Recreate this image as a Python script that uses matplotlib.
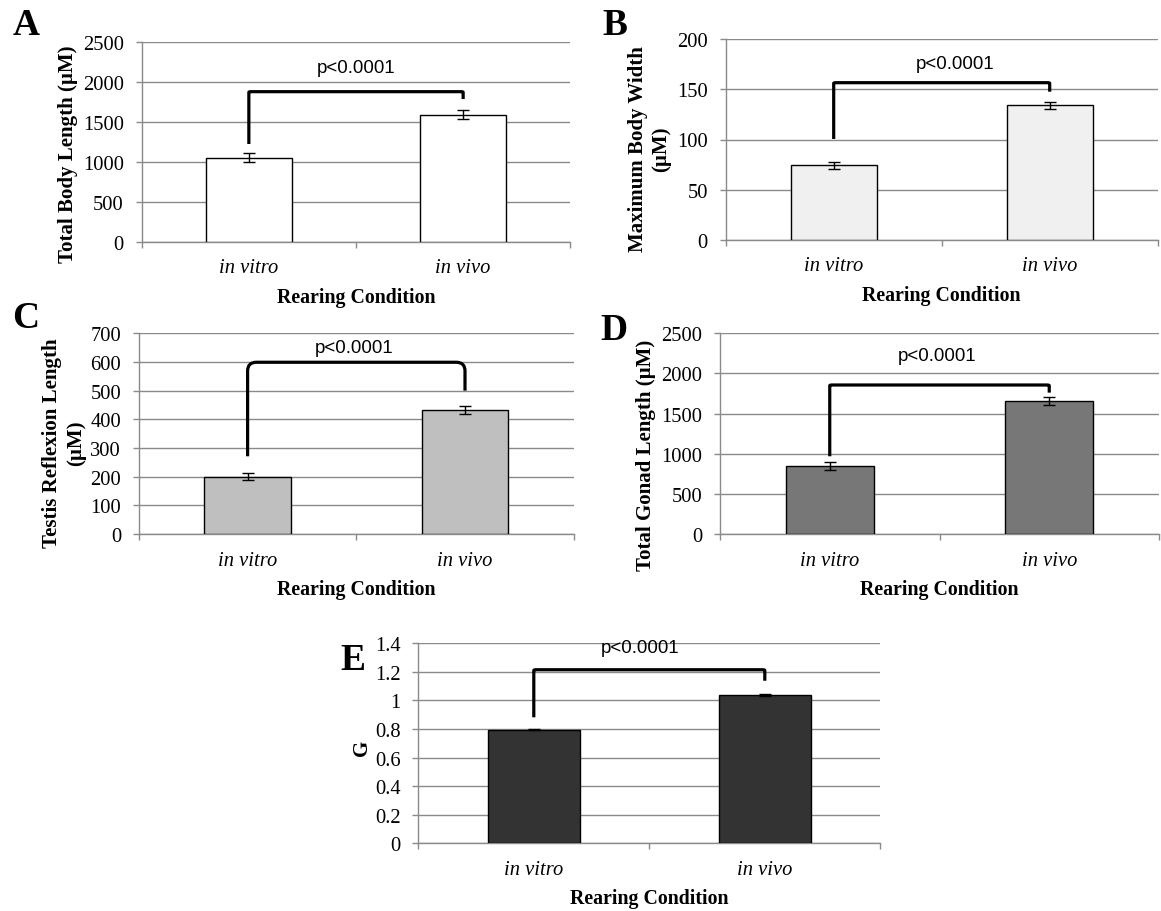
import matplotlib
matplotlib.use('Agg')
import matplotlib.pyplot as plt
from matplotlib.path import Path
from matplotlib.patches import PathPatch
import numpy as np

plt.rcParams['font.family'] = ['Liberation Serif', 'DejaVu Serif']

# ---------------- data ----------------
categories = ['in vitro', 'in vivo']
panel_letters = ['A', 'B', 'C', 'D', 'E']
ylabels = ['Total Body Length (\u00b5M)',
           'Maximum Body Width\n(\u00b5M)',
           'Testis Reflexion Length\n(\u00b5M)',
           'Total Gonad Length (\u00b5M)',
           'G']
xlabel_text = 'Rearing Condition'
p_label = 'p<0.0001'

means_A = [1055, 1592]
err_A = [58, 57]
means_B = [74.3, 134.1]
err_B = [3.3, 3.6]
means_C = [200, 432]
err_C = [11.6, 13]
means_D = [847, 1657]
err_D = [54, 54]
means_E = [0.795, 1.038]
err_E = [0.005, 0.007]

y_max = [2500, 200, 700, 2500, 1.4]
y_step = [500, 50, 100, 500, 0.2]

bar_colors = ['#ffffff', '#f0f0f0', '#bfbfbf', '#777777', '#333333']

# significance brackets: (left foot, top, right foot) in data units
brackets = [(1225, 1881, 1789), (100.5, 156.7, 147.7), (271, 599, 500),
            (968, 1856, 1761), (0.882, 1.215, 1.138)]
p_y = [2186, 175.5, 649, 2222, 1.37]

# ---------------- layout (pixels) ----------------
W, H = 1161, 912
boxes = [(141.7, 43.3, 570.3, 242.7),
         (725.7, 40.3, 1157.7, 240.7),
         (138.9, 334.3, 573.7, 535.0),
         (720.0, 334.3, 1159.0, 535.0),
         (418.3, 644.3, 880.3, 844.3)]
p_x = [0.5, 0.56, 0.49, 0.49, 0.46]
letter_pos = [(26, 35), (615, 35), (26, 328), (614, 340), (353, 670)]
ylabel_pos = [(68, 154), (649.5, 149), (64, 443), (646, 455), (362, 748)]
corner_r = [(0.01, 8), (0.01, 0.6), (0.04, 30), (0.01, 8), (0.01, 0.005)]

grid_color = '#8a8a8a'

fig = plt.figure(figsize=(W / 100, H / 100), dpi=100)

all_means = [means_A, means_B, means_C, means_D, means_E]
all_errs = [err_A, err_B, err_C, err_D, err_E]


def draw_bracket(ax, x0, x1, yb0, ytop, yb1, rx, ry):
    verts = [(x0, yb0), (x0, ytop - ry), (x0, ytop), (x0 + rx, ytop),
             (x1 - rx, ytop), (x1, ytop), (x1, ytop - ry), (x1, yb1)]
    codes = [Path.MOVETO, Path.LINETO, Path.CURVE3, Path.CURVE3,
             Path.LINETO, Path.CURVE3, Path.CURVE3, Path.LINETO]
    patch = PathPatch(Path(verts, codes), facecolor='none', edgecolor='black',
                      lw=2.3, joinstyle='round', capstyle='butt', zorder=5,
                      clip_on=False)
    ax.add_patch(patch)


for i in range(5):
    l, t, r, b = boxes[i]
    ax = fig.add_axes([l / W, 1 - b / H, (r - l) / W, (b - t) / H])
    h_px = b - t
    x = np.arange(len(categories))
    ax.bar(x, all_means[i], width=0.4, color=bar_colors[i], edgecolor='black',
           linewidth=1.0, zorder=3)
    ax.errorbar(x, all_means[i], yerr=all_errs[i], fmt='none', ecolor='black',
                elinewidth=1.0, capsize=4, capthick=1.0, zorder=4)
    ax.set_xlim(-0.5, 1.5)
    ax.set_ylim(0, y_max[i])
    ticks = np.arange(0, y_max[i] + y_step[i] / 2, y_step[i])
    ax.set_yticks(ticks)
    ax.set_yticklabels(['{:g}'.format(round(v, 2)) for v in ticks])
    ax.yaxis.grid(True, color=grid_color, lw=1.0, zorder=0)
    ax.set_axisbelow(True)
    for s in ['top', 'right']:
        ax.spines[s].set_visible(False)
    for s in ['left', 'bottom']:
        ax.spines[s].set_color(grid_color)
        ax.spines[s].set_linewidth(1.0)
    ax.tick_params(axis='y', length=4.3, width=1.0, color=grid_color,
                   direction='out', pad=8.5, labelsize=14.8)
    ax.set_xticks([-0.5, 0.5, 1.5])
    ax.set_xticklabels([])
    ax.tick_params(axis='x', length=4.3, width=1.0, color=grid_color,
                   direction='out')
    xt = ax.get_xaxis_transform()
    for j, c in enumerate(categories):
        ax.text(j, -26 / h_px, c, transform=xt, ha='center', va='center',
                style='italic', fontsize=14.8)
    ax.text(0.5, -55 / h_px, xlabel_text, transform=ax.transAxes,
            ha='center', va='center', fontweight='bold', fontsize=14.3)
    yb0, ytop, yb1 = brackets[i]
    rx, ry = corner_r[i]
    draw_bracket(ax, 0, 1, yb0, ytop, yb1, rx, ry)
    ax.text(p_x[i], p_y[i], p_label, ha='center', va='center',
            family='Liberation Sans', fontsize=13.4, zorder=6)

    lx, ly = letter_pos[i]
    fig.text(lx / W, 1 - ly / H, panel_letters[i], ha='center',
             va='baseline', fontweight='bold', fontsize=27)
    yx, yy = ylabel_pos[i]
    fig.text(yx / W, 1 - yy / H, ylabels[i], rotation=90, ha='center',
             va='center', multialignment='center', fontweight='bold',
             fontsize=15, linespacing=1.22)

fig.savefig('out.png', dpi=100)
